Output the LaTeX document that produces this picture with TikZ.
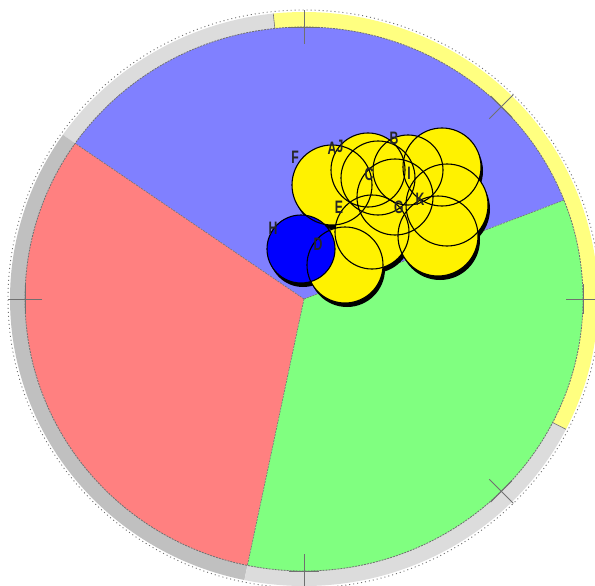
\documentclass[tikz,border=0pt]{standalone}
\usepackage{fontspec}
\newfontfamily\labfont[FakeStretch=0.68]{Liberation Sans}
\usetikzlibrary{calc}
\definecolor{secblue}{HTML}{8080FF}
\definecolor{secred}{HTML}{FF8080}
\definecolor{secgreen}{HTML}{80FF80}
\definecolor{ringlight}{HTML}{DCDCDC}
\definecolor{ringdark}{HTML}{C0C0C0}
\definecolor{ringyellow}{HTML}{FFFF80}
\definecolor{tickgray}{HTML}{707070}
\tikzset{
  lab/.style={font=\labfont\bfseries\fontsize{18}{18}\selectfont, inner sep=0pt, text=black!85},
  yc/.style={fill=yellow},
  outl/.style={draw=black, line width=1.1pt},
  tickline/.style={draw=tickgray, line width=0.9pt},
}
\newcommand{\RX}{279pt}
\newcommand{\RY}{272pt}
\newcommand{\OX}{294pt}
\newcommand{\OY}{287pt}
\newcommand{\annseg}[3]{% color, start, end
  \fill[#1] ($(P)+(#2:\OX\space and \OY)$) arc[start angle=#2, end angle=#3, x radius=\OX, y radius=\OY]
    -- ($(P)+(#3:\RX\space and \RY)$) arc[start angle=#3, end angle=#2, x radius=\RX, y radius=\RY] -- cycle;}
\newcommand{\pieseg}[3]{%
  \fill[#1] (P) -- ($(P)+(#2:\RX\space and \RY)$) arc[start angle=#2, end angle=#3, x radius=\RX, y radius=\RY] -- cycle;}
\begin{document}
\begin{tikzpicture}[x=1pt,y=-1pt]
\useasboundingbox[fill=white] (0,0) rectangle (595,586);
\coordinate (P) at (304,299);
% ring
\annseg{ringyellow}{-27}{96}
\annseg{ringlight}{96}{145.1}
\annseg{ringdark}{145.1}{258.3}
\annseg{ringlight}{258.3}{333}
\draw[tickgray, dash pattern=on 1pt off 3pt, line width=0.9pt] (P) ellipse[x radius=296pt, y radius=289pt];
% pie
\pieseg{secblue}{21.3}{145.1}
\pieseg{secred}{145.1}{258.3}
\pieseg{secgreen}{258.3}{381.3}
\draw[tickgray, dash pattern=on 2pt off 1pt, line width=0.8pt] (P) ellipse[x radius=\RX, y radius=\RY];
\foreach \a in {21.3,145.1,258.3}{
  \draw[tickgray, dash pattern=on 2pt off 1pt, line width=0.6pt] (P) -- ($(P)+(\a:\RX\space and \RY)$);
}
\foreach \a in {-27,96}{
  \draw[tickgray, line width=0.6pt] ($(P)+(\a:\RX\space and \RY)$) -- ($(P)+(\a:\OX\space and \OY)$);
}
% ticks
\foreach \a in {0,45,90,180,270,315}{
  \coordinate (E) at ($(P)+(\a:\RX\space and \RY)$);
  \draw[tickline] ($(P)+(\a:262pt and 255pt)$) -- ($(P)+(\a:296pt and 289pt)$);
  \draw[tickline] ($(E)+(\a+90:15pt)$) -- ($(E)+(\a-90:15pt)$);
}
% cluster: shadows
\foreach \x/\y/\r in {332/185/40, 368/170/37, 378/178/37, 408/170/35, 395/197/38, 442/167/39, 447/205/41, 438/236/40, 372/232/37, 345/265/38, 301/249/34}{
  \fill[black] (\x+2,\y+4) circle[radius=\r pt];
}
% yellow fills
\foreach \x/\y/\r in {332/185/40, 368/170/37, 378/178/37, 408/170/35, 395/197/38, 442/167/39, 447/205/41, 438/236/40, 372/232/37, 345/265/38}{
  \fill[yc] (\x,\y) circle[radius=\r pt];
}
\fill[blue] (301,249) circle[radius=34pt];
% outlines
\foreach \x/\y/\r in {332/185/40, 368/170/37, 378/178/37, 408/170/35, 395/197/38, 442/167/39, 447/205/41, 438/236/40, 372/232/37, 345/265/38}{
  \draw[outl] (\x,\y) circle[radius=\r pt];
}
\draw[outl] (301,249) circle[radius=34pt];
% labels
\node[lab] (lA) at (332,148) {A};
\node[lab] (lJ) at (340,146) {J};
\node[lab] (lB) at (394,138) {B};
\node[lab] (lC) at (369,174) {C};
\node[lab] (lD) at (318,244) {D};
\node[lab] (lE) at (339,207) {E};
\node[lab] (lF) at (295,157) {F};
\node[lab] (lG) at (399,207) {G};
\node[lab] (lH) at (273,228) {H};
\node[lab] (lI) at (409,173) {I};
\node[lab] (lK) at (420,199) {K};
\end{tikzpicture}
\end{document}
